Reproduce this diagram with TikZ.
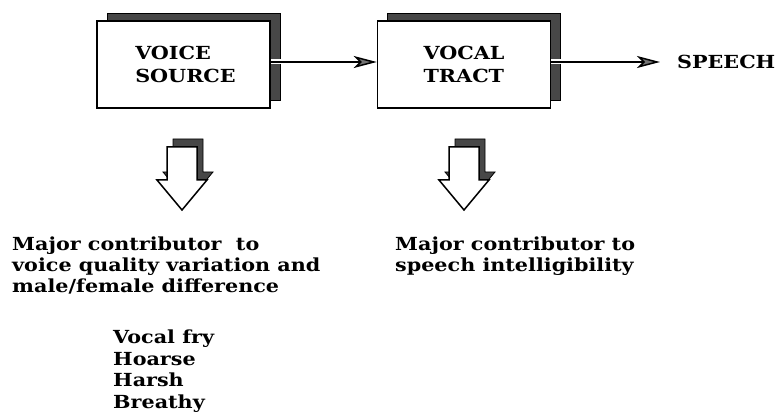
\documentclass[tikz,border=0pt]{standalone}
\usepackage{fontspec}
\newfontfamily\labelfont{DejaVu Serif}[FakeStretch=1.15]
\usetikzlibrary{arrows.meta,shadows}

\begin{document}
\begin{tikzpicture}[x=1pt,y=-1pt,
  shadowfill/.style={fill=black!72, draw=black, line width=0.8pt},
  blockbox/.style={draw, line width=1.5pt, fill=white,
    minimum width=173pt, minimum height=87pt, inner sep=0pt,
    align=left, font=\labelfont\bfseries\fontsize{18}{23.5}\selectfont,
    copy shadow={shadow xshift=10pt, shadow yshift=8pt, shadowfill}},
  flow/.style={line width=2pt,
    -{Stealth[length=23pt, width=12pt, inset=6pt, fill=black!55, line width=1.5pt]}},
  gap/.style={draw=white, line width=5pt},
  caption/.style={inner sep=0pt, anchor=base west, align=left,
    font=\labelfont\bfseries\fontsize{18}{21}\selectfont},
  listtext/.style={caption, font=\labelfont\bfseries\fontsize{18}{21.5}\selectfont},
  hollowdown/.pic={
    % raised outline arrow: dark offset copy behind a white face
    \filldraw[shadowfill, shift={(6,-8)}]
      (-15,0) -- (15,0) -- (15,33) -- (25,33) -- (0,63) -- (-25,33) -- (-15,33) -- cycle;
    \filldraw[fill=white, draw=black, line width=1.5pt]
      (-15,0) -- (15,0) -- (15,33) -- (25,33) -- (0,63) -- (-25,33) -- (-15,33) -- cycle;
  }]
\useasboundingbox (0,0) rectangle (776,414);

% processing blocks
\node[blockbox] (vs) at (183.5,64.5) {\hspace*{4pt}VOICE\\\hspace*{4pt}SOURCE};
\node[blockbox] (vt) at (464,64.5) {VOCAL\\TRACT};
\node[inner sep=0pt, anchor=west, font=\labelfont\bfseries\fontsize{18}{20}\selectfont]
  (speech) at (677,62) {SPEECH};

% signal flow
\draw[gap] ([yshift=2.5pt]vs.east) -- ++(12,0);
\draw[flow] ([yshift=2.5pt]vs.east) -- ([yshift=2.5pt]vt.west);
\draw[gap] ([yshift=2.5pt]vt.east) -- ++(12,0);
\draw[flow] ([yshift=2.5pt]vt.east) -- ([xshift=-17pt]speech.west);

% contribution arrows
\coordinate (d1) at (182,147);
\coordinate (d2) at (464,147);
\pic at (d1) {hollowdown};
\pic at (d2) {hollowdown};

% captions (placed by the baseline of their last line)
\node[caption] (c1) at (12,292)
  {Major contributor\ \ to\\voice quality variation and\\male/female difference};
\node[caption] (c2) at (395,271)
  {Major contributor to\\speech intelligibility};
\node[listtext] (c3) at (113,408)
  {Vocal fry\\Hoarse\\Harsh\\Breathy};
\end{tikzpicture}
\end{document}
